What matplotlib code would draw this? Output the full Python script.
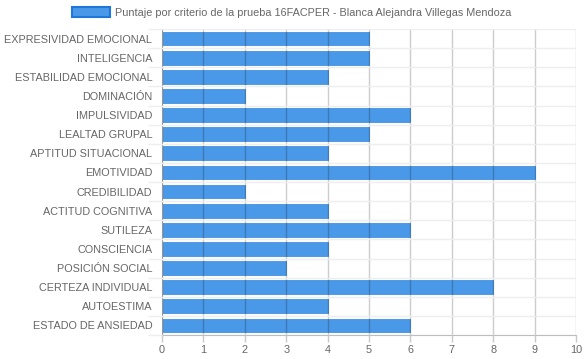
import numpy as np
import matplotlib.pyplot as plt

plt.rcParams["font.family"] = ["Liberation Sans", "DejaVu Sans"]

criterios = ["EXPRESIVIDAD EMOCIONAL", "INTELIGENCIA", "ESTABILIDAD EMOCIONAL",
             "DOMINACIÓN", "IMPULSIVIDAD", "LEALTAD GRUPAL", "APTITUD SITUACIONAL",
             "EMOTIVIDAD", "CREDIBILIDAD", "ACTITUD COGNITIVA", "SUTILEZA",
             "CONSCIENCIA", "POSICIÓN SOCIAL", "CERTEZA INDIVIDUAL", "AUTOESTIMA",
             "ESTADO DE ANSIEDAD"]
puntajes = [5, 5, 4, 2, 6, 5, 4, 9, 2, 4, 6, 4, 3, 8, 4, 6]
serie = "Puntaje por criterio de la prueba 16FACPER - Blanca Alejandra Villegas Mendoza"

fill = "#4a98e8"
edge = "#4393e4"
txt = "#666666"
fs = 7.8

fig = plt.figure(figsize=(5.84, 3.59), dpi=100)
ax = fig.add_axes([162 / 584, (359 - 335) / 359, 414 / 584, 306 / 359])

y = np.arange(len(criterios))
ax.barh(y, puntajes, height=0.72, color=fill, edgecolor=edge, linewidth=0.6, zorder=2)

ax.set_xlim(0, 10)
ax.set_ylim(len(criterios) - 0.5, -0.5)
ax.set_xticks(np.arange(0, 11, 1))
ax.set_yticks(y)
ax.set_yticklabels(criterios)
ax.set_yticks(np.arange(-0.5, len(criterios), 1), minor=True)

ax.set_axisbelow(False)
ax.grid(axis="x", color="black", alpha=0.2, linewidth=1)
ax.grid(axis="y", which="minor", color="#eeeeee", linewidth=1)
ax.tick_params(axis="y", which="major", length=0, pad=7, labelsize=fs, labelcolor=txt)
ax.tick_params(axis="y", which="minor", length=10, color="#eeeeee", width=1)
ax.tick_params(axis="x", length=5, color="#c8c8c8", width=1, pad=2, labelsize=fs, labelcolor=txt)

for s in ["top", "right"]:
    ax.spines[s].set_visible(False)
ax.spines["left"].set_color("#bdbdbd")
ax.spines["bottom"].set_color("#bdbdbd")

fig.legend(handles=[plt.Rectangle((0, 0), 1, 1, facecolor=fill, edgecolor="#1f78d8", linewidth=1.5)],
           labels=[serie], loc="upper center", bbox_to_anchor=(0.5, 1.0), frameon=False,
           fontsize=fs, labelcolor=txt, handlelength=3.5, handleheight=1.1, handletextpad=0.5,
           borderaxespad=0.25)

fig.savefig("out.png", dpi=100)
